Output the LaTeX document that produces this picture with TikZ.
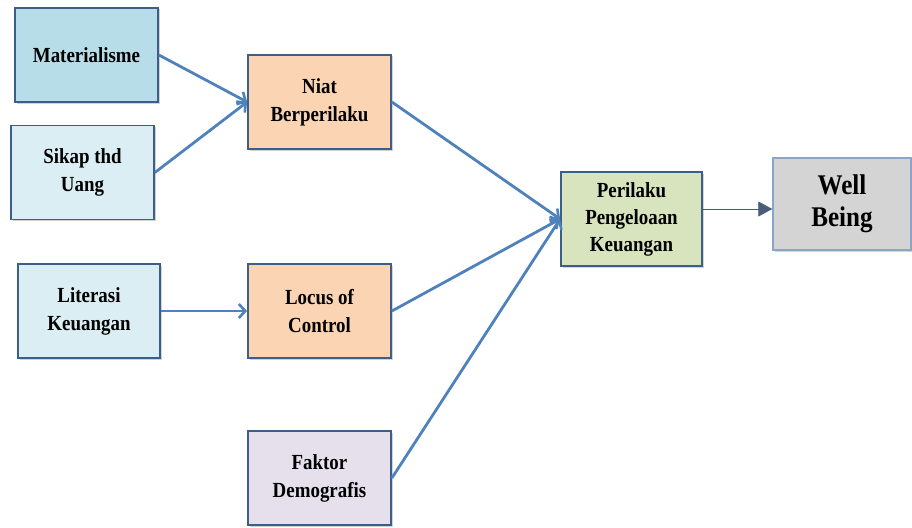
\documentclass[tikz,border=0pt]{standalone}
\usepackage{fontspec}
\setmainfont{Liberation Serif}[FakeStretch=0.88]
\usetikzlibrary{arrows.meta,shadows}
\definecolor{bord}{HTML}{3B5E8A}
\definecolor{arr}{HTML}{4F81BD}
\definecolor{cMat}{HTML}{B7DDE8}
\definecolor{cLight}{HTML}{DAEEF3}
\definecolor{cOrange}{HTML}{FBD4B4}
\definecolor{cPurple}{HTML}{E5E0EC}
\definecolor{cGreen}{HTML}{D7E4BD}
\definecolor{cGrey}{HTML}{D4D4D4}
\definecolor{wbBord}{HTML}{8AA5C6}
\definecolor{thinArr}{HTML}{4A5D78}
\begin{document}
\begin{tikzpicture}[x=1pt,y=-1pt,
  box/.style={draw=bord, line width=1.8pt, align=center, inner sep=0pt,
    minimum width=143pt, minimum height=94pt,
    font=\fontsize{21.5}{28}\selectfont\bfseries,
    drop shadow={shadow xshift=1.5pt,shadow yshift=-1.5pt,opacity=0.35}},
  link/.style={draw=arr, line width=2.8pt, -{Straight Barb[length=6.5pt,width=14pt,line width=2.6pt]}},
  thinlink/.style={draw=thinArr, line width=0.8pt, -{Triangle[length=14pt,width=15pt]}}
]
\useasboundingbox (0,0) rectangle (912,527);
\node[box, fill=cMat] (mat) at (86.5,55) {Materialisme};
\node[box, fill=cLight] (sik) at (82.5,172.5) {Sikap thd\\Uang};
\node[box, fill=cOrange] (niat) at (319.5,102) {Niat\\Berperilaku};
\node[box, fill=cLight, minimum width=142pt] (lit) at (89,311) {Literasi\\Keuangan};
\node[box, fill=cOrange] (loc) at (319.5,311) {Locus of\\Control};
\node[box, fill=cPurple] (fak) at (319.5,478) {Faktor\\Demografis};
\node[box, fill=cGreen, minimum width=141pt, font=\fontsize{21.5}{27}\selectfont\bfseries] (per) at (631.5,219) {Perilaku\\Pengeloaan\\Keuangan};
\node[box, fill=cGrey, draw=wbBord, line width=1.4pt, minimum width=138pt, minimum height=92pt,
  font=\fontsize{28.5}{32}\selectfont\bfseries] (wb) at (842,204) {Well\\Being};
\draw[link] (mat.east) -- (niat.west);
\draw[link] (sik.east) -- (niat.west);
\draw[link] (lit.east) -- (loc.west);
\draw[link] (niat.east) -- (per.west);
\draw[link] (loc.east) -- (per.west);
\draw[link] (fak.east) -- (per.west);
\draw[thinlink] (per.east |- 0,209) -- (wb.west |- 0,209);
\end{tikzpicture}
\end{document}
